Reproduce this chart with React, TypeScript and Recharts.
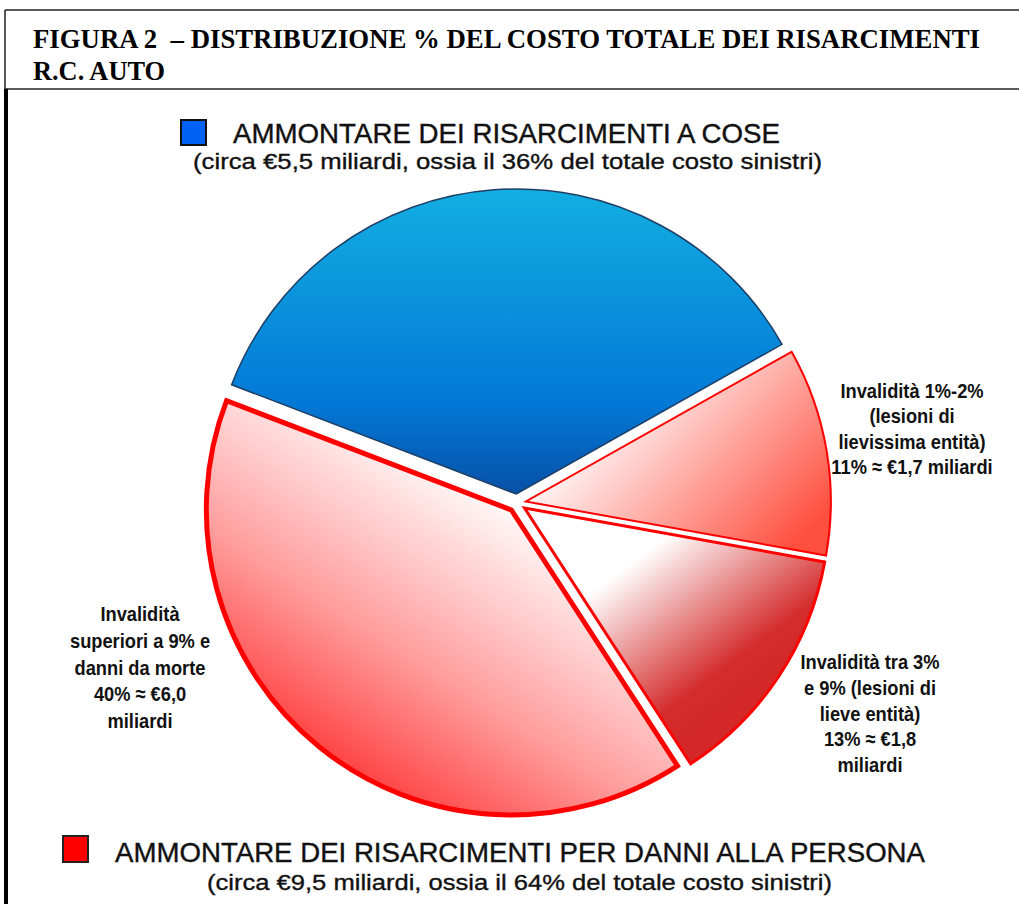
import React from "react";
import { PieChart, Pie, Cell, Sector } from "recharts";

const sliceNames = [
  "Risarcimenti a cose",
  "Invalidità 1%-2%",
  "Invalidità tra 3% e 9%",
  "Invalidità superiori a 9% e danni da morte",
];
const sliceValues = [36, 11, 13, 40];
const sliceFills = ["url(#gBlue)", "url(#gRed11)", "url(#gRed13)", "url(#gRed40)"];
const sliceStrokes = ["#1d3f66", "#ff0000", "#ff0000", "#ff0000"];
const sliceStrokeWidths = [1.5, 2, 3, 5];

const titleLines = [
  "FIGURA 2\u00a0\u00a0– DISTRIBUZIONE % DEL COSTO TOTALE DEI RISARCIMENTI",
  "R.C. AUTO",
];
const legendTop = [
  "AMMONTARE DEI RISARCIMENTI A COSE",
  "(circa €5,5 miliardi, ossia il 36% del totale costo sinistri)",
];
const legendBottom = [
  "AMMONTARE DEI RISARCIMENTI PER DANNI ALLA PERSONA",
  "(circa €9,5 miliardi, ossia il 64% del totale costo sinistri)",
];
const label11 = ["Invalidità 1%-2%", "(lesioni di", "lievissima entità)", "11% ≈ €1,7 miliardi"];
const label13 = ["Invalidità tra 3%", "e 9% (lesioni di", "lieve entità)", "13% ≈ €1,8", "miliardi"];
const label40 = ["Invalidità", "superiori a 9% e", "danni da morte", "40% ≈ €6,0", "miliardi"];

const pieData = sliceNames.map((name, i) => ({ name, value: sliceValues[i] }));

const EXPLODE = 9;
const renderSlice = (props: any) => {
  const RAD = Math.PI / 180;
  const dx = EXPLODE * Math.cos(-props.midAngle * RAD);
  const dy = EXPLODE * Math.sin(-props.midAngle * RAD);
  return (
    <Sector
      cx={props.cx + dx}
      cy={props.cy + dy}
      innerRadius={props.innerRadius}
      outerRadius={props.outerRadius}
      startAngle={props.startAngle}
      endAngle={props.endAngle}
      fill={props.fill}
      stroke={props.stroke}
      strokeWidth={props.strokeWidth}
      strokeLinejoin="miter"
    />
  );
};

const LabelBlock = ({ lines, x, y, step }: { lines: string[]; x: number; y: number; step: number }) => (
  <g transform={`translate(${x},0) scale(0.87,1)`}>
    <text
      x={0}
      y={y}
      textAnchor="middle"
      fontFamily="Liberation Sans, Arial, sans-serif"
      fontWeight="bold"
      fontSize={21}
      fill="#111"
    >
      {lines.map((l, i) => (
        <tspan key={i} x={0} y={y + i * step}>
          {l}
        </tspan>
      ))}
    </text>
  </g>
);

export default function App() {
  return (
    <div style={{ position: "absolute", left: 0, top: 0, width: 1019, height: 904, background: "#fff" }}>
      <PieChart width={1019} height={904} margin={{ top: 0, right: 0, bottom: 0, left: 0 }}>
        <defs>
          <linearGradient id="gBlue" x1="0" y1="0" x2="0" y2="1">
            <stop offset="0" stopColor="#13aee2" />
            <stop offset="0.7" stopColor="#0279d6" />
            <stop offset="1" stopColor="#0850a8" />
          </linearGradient>
          <linearGradient id="gRed11" x1="0.1" y1="0.3" x2="0.95" y2="0.85">
            <stop offset="0" stopColor="#ffffff" />
            <stop offset="0.15" stopColor="#fff4f4" />
            <stop offset="1" stopColor="#ff4f3f" />
          </linearGradient>
          <linearGradient id="gRed13" x1="0.2" y1="0.15" x2="0.75" y2="0.78">
            <stop offset="0" stopColor="#ffffff" />
            <stop offset="0.18" stopColor="#ffffff" />
            <stop offset="0.8" stopColor="#d42b2b" />
            <stop offset="1" stopColor="#d42828" />
          </linearGradient>
          <linearGradient id="gRed40" x1="0.85" y1="0.1" x2="0.2" y2="1">
            <stop offset="0" stopColor="#ffffff" />
            <stop offset="0.2" stopColor="#ffffff" />
            <stop offset="0.6" stopColor="#ff9c9c" />
            <stop offset="1" stopColor="#ff1818" />
          </linearGradient>
        </defs>
        <Pie
          data={pieData}
          dataKey="value"
          nameKey="name"
          cx={517}
          cy={503}
          innerRadius={0}
          outerRadius={305}
          startAngle={159}
          endAngle={-201}
          isAnimationActive={false}
          labelLine={false}
          shape={renderSlice}
          activeShape={renderSlice}
          inactiveShape={renderSlice}
        >
          {pieData.map((d, i) => (
            <Cell key={d.name} fill={sliceFills[i]} stroke={sliceStrokes[i]} strokeWidth={sliceStrokeWidths[i]} />
          ))}
        </Pie>
      </PieChart>
      <svg
        width={1019}
        height={904}
        style={{ position: "absolute", left: 0, top: 0, pointerEvents: "none" }}
      >
        {/* title frame */}
        <line x1={5} y1={10} x2={1019} y2={10} stroke="#222" strokeWidth={1.5} />
        <line x1={5} y1={10} x2={5} y2={89} stroke="#222" strokeWidth={1.5} />
        <line x1={5} y1={89} x2={1019} y2={89} stroke="#222" strokeWidth={1.5} />
        <line x1={6} y1={89} x2={6} y2={904} stroke="#000" strokeWidth={4} />
        <text
          x={33}
          y={48}
          fontFamily="Liberation Serif, Times New Roman, serif"
          fontWeight="bold"
          fontSize={27}
          textLength={947}
          lengthAdjust="spacingAndGlyphs"
          fill="#000"
        >
          {titleLines[0]}
        </text>
        <text
          x={33}
          y={80}
          fontFamily="Liberation Serif, Times New Roman, serif"
          fontWeight="bold"
          fontSize={27}
          textLength={132}
          lengthAdjust="spacingAndGlyphs"
          fill="#000"
        >
          {titleLines[1]}
        </text>

        {/* top legend */}
        <rect x={181} y={120} width={25} height={25} fill="#0062f5" stroke="#111" strokeWidth={2} />
        <text
          x={233}
          y={143}
          fontFamily="Liberation Sans, Arial, sans-serif"
          fontSize={28}
          textLength={547}
          lengthAdjust="spacingAndGlyphs"
          fill="#111"
          stroke="#111"
          strokeWidth={0.4}
        >
          {legendTop[0]}
        </text>
        <text
          x={193}
          y={169}
          fontFamily="Liberation Sans, Arial, sans-serif"
          fontSize={22}
          textLength={629}
          lengthAdjust="spacingAndGlyphs"
          fill="#111"
          stroke="#111"
          strokeWidth={0.35}
        >
          {legendTop[1]}
        </text>

        {/* bottom legend */}
        <rect x={63} y={836} width={25} height={26} fill="#ff0000" stroke="#222" strokeWidth={2} />
        <text
          x={115}
          y={862}
          fontFamily="Liberation Sans, Arial, sans-serif"
          fontSize={28}
          textLength={810}
          lengthAdjust="spacingAndGlyphs"
          fill="#111"
          stroke="#111"
          strokeWidth={0.4}
        >
          {legendBottom[0]}
        </text>
        <text
          x={207}
          y={890}
          fontFamily="Liberation Sans, Arial, sans-serif"
          fontSize={22}
          textLength={625}
          lengthAdjust="spacingAndGlyphs"
          fill="#111"
          stroke="#111"
          strokeWidth={0.35}
        >
          {legendBottom[1]}
        </text>

        <LabelBlock lines={label11} x={912} y={398} step={25.5} />
        <LabelBlock lines={label13} x={870} y={669} step={25.8} />
        <LabelBlock lines={label40} x={140} y={621} step={26.8} />
      </svg>
    </div>
  );
}
